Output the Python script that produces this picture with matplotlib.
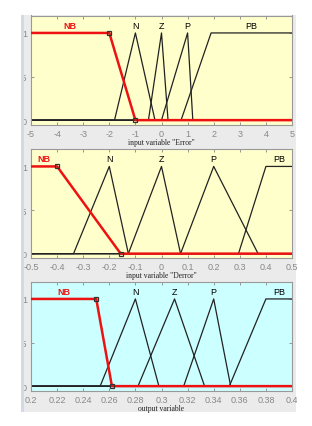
import numpy as np
import matplotlib
matplotlib.use("Agg")
import matplotlib.pyplot as plt
from matplotlib.patches import Rectangle

# membership function names (same for the three variables)
mf_names = ["NB", "N", "Z", "P", "PB"]

# input "Error", range -5..5  (trapezoid = 4 params, triangle = 3 params)
err_range = [-5, 5]
err_params = [[-6, -5, -2, -1], [-1.8, -1, -0.25], [-0.5, 0, 0.25], [0, 1, 1.2], [0.75, 1.9, 5, 6]]
err_ticks = [-5, -4, -3, -2, -1, 0, 1, 2, 3, 4, 5]
err_ticklabels = ["-5", "-4", "-3", "-2", "-1", "0", "1", "2", "3", "4", "5"]

# input "Derror", range -0.5..0.5
derr_range = [-0.5, 0.5]
derr_params = [[-0.6, -0.5, -0.4, -0.157], [-0.337, -0.2, -0.127], [-0.127, 0, 0.073],
               [0.073, 0.2, 0.37], [0.295, 0.4, 0.5, 0.6]]
derr_ticks = [-0.5, -0.4, -0.3, -0.2, -0.1, 0, 0.1, 0.2, 0.3, 0.4, 0.5]
derr_ticklabels = ["-0.5", "-0.4", "-0.3", "-0.2", "-0.1", "0", "0.1", "0.2", "0.3", "0.4", "0.5"]

# output variable, range 0.2..0.4
out_range = [0.2, 0.4]
out_params = [[0.19, 0.2, 0.25, 0.262], [0.253, 0.28, 0.298], [0.282, 0.31, 0.333],
              [0.317, 0.34, 0.353], [0.352, 0.38, 0.4, 0.41]]
out_ticks = [0.2, 0.22, 0.24, 0.26, 0.28, 0.3, 0.32, 0.34, 0.36, 0.38, 0.4]
out_ticklabels = ["0.2", "0.22", "0.24", "0.26", "0.28", "0.3", "0.32", "0.34", "0.36", "0.38", "0.4"]


def mf_curve(p, lo, hi):
    if len(p) == 3:
        xp, yp = p, [0, 1, 0]
    else:
        xp, yp = p, [0, 1, 1, 0]
    x = np.linspace(lo, hi, 2001)
    x = np.unique(np.concatenate([x, [v for v in p if lo <= v <= hi]]))
    y = np.interp(x, xp, yp, left=0, right=0)
    return x, y


def label_x(p, lo, hi):
    if len(p) == 3:
        return p[1]
    return (max(p[1], lo) + min(p[2], hi)) / 2


fig = plt.figure(figsize=(3.12, 4.27), dpi=100)
fig.patch.set_facecolor("white")
W, H = 312, 427

# grey window background
fig.patches.append(Rectangle((21 / W, 1 - 413 / H), 275 / W, 397 / H, transform=fig.transFigure,
                             facecolor="#ebebeb", edgecolor="none", zorder=-5))

panels = [
    (err_range, err_params, err_ticks, err_ticklabels, 'input variable "Error"', "#ffffcc", 16.5),
    (derr_range, derr_params, derr_ticks, derr_ticklabels, 'input variable "Derror"', "#ffffcc", 150),
    (out_range, out_params, out_ticks, out_ticklabels, "output variable", "#ccffff", 282.5),
]

for rng, params, ticks, tlabels, xlabel, bg, top in panels:
    h = 109
    ax = fig.add_axes([31 / W, 1 - (top + h) / H, 261 / W, h / H])
    ax.set_facecolor(bg)
    lo, hi = rng
    for i, p in enumerate(params):
        x, y = mf_curve(p, lo, hi)
        if i == 0:
            continue
        ax.plot(x, y, color="#222222", lw=0.9, zorder=2)
    # selected MF drawn in red on top
    x, y = mf_curve(params[0], lo, hi)
    ax.plot(x, y, color="#ee1111", lw=1.8, zorder=3)
    ax.plot([params[0][2], params[0][3]], [1, 0], ls="none", marker="s", ms=3.2,
            mfc="none", mec="#333333", mew=0.9, zorder=4)
    for i, (name, p) in enumerate(zip(mf_names, params)):
        ax.text(label_x(p, lo, hi), 1.09, name, ha="center", va="center",
                fontsize=6.5, family="Liberation Sans",
                color="#ee1111" if i == 0 else "black",
                fontweight="bold" if i == 0 else "normal")
    ax.set_xlim(lo, hi)
    ax.set_ylim(-0.05, 1.2)
    ax.set_xticks(ticks)
    ax.set_xticklabels(tlabels)
    ax.set_yticks([0, 0.5, 1])
    ax.set_yticklabels(["0", "0.5", "1"])
    ax.tick_params(direction="in", length=2.5, width=0.6, color="#888888",
                   labelsize=6.5, labelcolor="#888888", top=True, right=True, pad=3)
    for lab in ax.get_xticklabels() + ax.get_yticklabels():
        lab.set_family("Liberation Sans")
    for s in ax.spines.values():
        s.set_color("#999999")
        s.set_linewidth(0.8)
    ax.text(0.5, -(17.5 / h), xlabel, transform=ax.transAxes, ha="center", va="center",
            fontsize=5.5, family="Liberation Serif", color="#222222")

# screenshot edges: white margins and bluish window border on top of everything
fig.patches.append(Rectangle((0, 0), 21 / W, 1, transform=fig.transFigure,
                             facecolor="white", edgecolor="none", zorder=10))
fig.patches.append(Rectangle((21 / W, 1 - 413 / H), 3 / W, 397 / H, transform=fig.transFigure,
                             facecolor="#d3dae6", edgecolor="none", zorder=10))
fig.patches.append(Rectangle((297 / W, 0), 15 / W, 1, transform=fig.transFigure,
                             facecolor="white", edgecolor="none", zorder=10))

fig.savefig("out.png", dpi=100)
